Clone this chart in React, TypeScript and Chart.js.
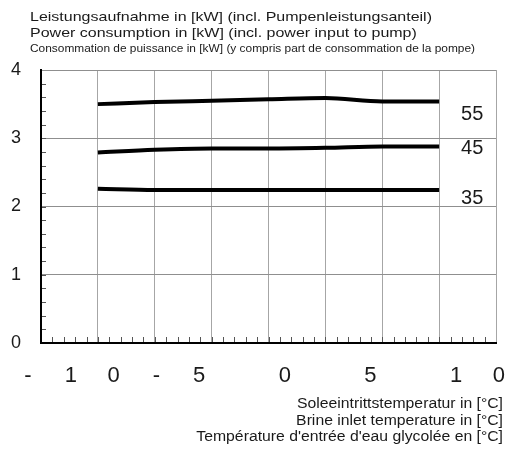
import { useEffect, useRef } from 'react';
import { Chart, registerables } from 'chart.js';

Chart.register(...registerables);

// ---- data ----
const brineTemps = [-10, -6.67, -3.33, 0, 3.33, 6.67, 10];
const power55 = [3.5, 3.53, 3.55, 3.57, 3.59, 3.54, 3.54];
const power45 = [2.79, 2.83, 2.85, 2.85, 2.86, 2.88, 2.88];
const power35 = [2.26, 2.24, 2.24, 2.24, 2.24, 2.24, 2.24];
const seriesNames = ['55', '45', '35'];
const yTickValues = [0, 1, 2, 3, 4];
const xTickChars = ['-', '1', '0', '-', '5', '', '0', '', '5', '', '1', '0'];
const titleLines = [
  'Leistungsaufnahme in [kW] (incl. Pumpenleistungsanteil)',
  'Power consumption in [kW] (incl. power input to pump)',
  'Consommation de puissance in [kW] (y compris part de consommation de la pompe)',
];
const xTitleLines = [
  'Soleeintrittstemperatur in [°C]',
  'Brine inlet temperature in [°C]',
  "Température d'entrée d'eau glycolée en [°C]",
];

const X_MIN = -40 / 3;
const X_MAX = 40 / 3;
const X_MAJOR = 10 / 3;
const X_MINOR_COUNT = 40;
const Y_MINOR_COUNT = 20;
const FONT = "'Liberation Sans', Arial, sans-serif";

function drawStretched(ctx: CanvasRenderingContext2D, text: string, x: number, y: number, sx: number, align: 'left' | 'right') {
  ctx.save();
  ctx.translate(x, y);
  ctx.scale(sx, 1);
  ctx.textAlign = align;
  ctx.fillText(text, 0, 0);
  ctx.restore();
}

const overlayPlugin = {
  id: 'overlayPlugin',
  afterDraw(chart: any) {
    const ctx: CanvasRenderingContext2D = chart.ctx;
    const xs = chart.scales.x;
    const ys = chart.scales.y;
    const x0 = xs.left;
    const x1 = xs.right;
    const y0 = ys.getPixelForValue(0);
    const y1 = ys.getPixelForValue(4);
    ctx.save();
    ctx.lineWidth = 1;
    ctx.strokeStyle = '#555';
    ctx.beginPath();
    for (let i = 1; i < X_MINOR_COUNT; i++) {
      const px = Math.round(x0 + ((x1 - x0) * i) / X_MINOR_COUNT) + 0.5;
      ctx.moveTo(px, y0 - 1);
      ctx.lineTo(px, y0 - 6);
    }
    for (let i = 1; i < Y_MINOR_COUNT; i++) {
      const py = Math.round(y0 + ((y1 - y0) * i) / Y_MINOR_COUNT) + 0.5;
      ctx.moveTo(x0 + 1, py);
      ctx.lineTo(x0 + 5, py);
    }
    ctx.stroke();
    ctx.restore();

    // titles
    ctx.save();
    ctx.fillStyle = '#1a1a1a';
    ctx.textBaseline = 'alphabetic';
    ctx.font = `13px ${FONT}`;
    const s1 = 402 / ctx.measureText(titleLines[0]).width;
    drawStretched(ctx, titleLines[0], 30, 20.7, s1, 'left');
    drawStretched(ctx, titleLines[1], 30, 36.8, s1, 'left');
    ctx.font = `10.5px ${FONT}`;
    const s3 = 445 / ctx.measureText(titleLines[2]).width;
    drawStretched(ctx, titleLines[2], 30, 51.7, s3, 'left');
    ctx.font = `14px ${FONT}`;
    const sf = 206 / ctx.measureText(xTitleLines[0]).width;
    drawStretched(ctx, xTitleLines[0], 503, 408, sf, 'right');
    drawStretched(ctx, xTitleLines[1], 503, 424.5, sf, 'right');
    drawStretched(ctx, xTitleLines[2], 503, 440.5, sf, 'right');
    ctx.restore();
  },
};

const labelOffsets = [13, 2, 8.5];
const seriesLabelPlugin = {
  id: 'seriesLabelPlugin',
  afterDatasetsDraw(chart: any) {
    const ctx = chart.ctx;
    ctx.save();
    ctx.fillStyle = '#1a1a1a';
    ctx.font = `20px ${FONT}`;
    ctx.textAlign = 'center';
    ctx.textBaseline = 'middle';
    chart.data.datasets.forEach((ds: any, i: number) => {
      const meta = chart.getDatasetMeta(i);
      const last = meta.data[meta.data.length - 1];
      if (!last) return;
      ctx.fillText(ds.label, last.x + 33, last.y + labelOffsets[i]);
    });
    ctx.restore();
  },
};

export default function App() {
  const ref = useRef<HTMLCanvasElement | null>(null);
  useEffect(() => {
    if (!ref.current) return;
    const mk = (vals: number[], label: string) => ({
      label,
      data: brineTemps.map((x, i) => ({ x, y: vals[i] })),
      borderColor: '#000',
      backgroundColor: '#000',
      borderWidth: 4,
      pointRadius: 0,
      cubicInterpolationMode: 'monotone' as const,
      fill: false,
    });
    const chart = new Chart(ref.current, {
      type: 'line',
      data: {
        datasets: [
          mk(power55, seriesNames[0]),
          mk(power45, seriesNames[1]),
          mk(power35, seriesNames[2]),
        ],
      },
      plugins: [overlayPlugin, seriesLabelPlugin],
      options: {
        animation: false,
        responsive: false,
        devicePixelRatio: 1,
        layout: { padding: { top: 70, right: 14, left: 0, bottom: 0 } },
        plugins: { legend: { display: false }, tooltip: { enabled: false } },
        scales: {
          x: {
            type: 'linear',
            position: 'bottom',
            min: X_MIN,
            max: X_MAX,
            bounds: 'data',
            weight: 1,
            afterBuildTicks: (s: any) => {
              const t = [];
              for (let i = 0; i <= 8; i++) t.push({ value: X_MIN + i * X_MAJOR });
              s.ticks = t;
            },
            afterFit: (s: any) => { s.height = 0; s.paddingLeft = 0; s.paddingRight = 0; },
            ticks: { display: false },
            grid: {
              color: (c: any) => (c.index === 0 ? 'rgba(0,0,0,0)' : '#a6a6a6'),
              lineWidth: 1,
              drawTicks: false,
            },
            border: { display: true, color: '#000', width: 2 },
          },
          xLabels: {
            type: 'linear',
            position: 'bottom',
            min: X_MIN,
            max: X_MAX,
            bounds: 'data',
            weight: 2,
            afterBuildTicks: (s: any) => {
              const p0 = 28 - 41;
              const step = 42.8;
              const unit = (X_MAX - X_MIN) / 455;
              s.ticks = xTickChars.map((_, i) => ({ value: X_MIN + (p0 + i * step) * unit }));
            },
            afterFit: (s: any) => { s.height = 108; s.paddingLeft = 0; s.paddingRight = 0; },
            ticks: {
              autoSkip: false,
              maxRotation: 0,
              padding: 20,
              color: '#1a1a1a',
              font: { size: 22, family: FONT },
              callback: (_v: any, i: number) => xTickChars[i],
            },
            grid: { display: false, drawTicks: false },
            border: { display: false },
          },
          y: {
            type: 'linear',
            position: 'left',
            min: 0,
            max: 4,
            weight: 1,
            afterBuildTicks: (s: any) => { s.ticks = yTickValues.map((v) => ({ value: v })); },
            afterFit: (s: any) => { s.width = 41; },
            ticks: {
              padding: 20,
              color: '#1a1a1a',
              font: { size: 18, family: FONT },
            },
            grid: {
              color: (c: any) => (c.index === 0 ? 'rgba(0,0,0,0)' : '#8f8f8f'),
              lineWidth: 1,
              drawTicks: false,
            },
            border: { display: true, color: '#000', width: 2 },
          },
        },
      } as any,
    });
    return () => chart.destroy();
  }, []);
  return (
    <div style={{ position: 'absolute', left: 0, top: 0, width: 510, height: 451, background: '#fff' }}>
      <canvas ref={ref} width={510} height={451} style={{ width: 510, height: 451 }} />
    </div>
  );
}
